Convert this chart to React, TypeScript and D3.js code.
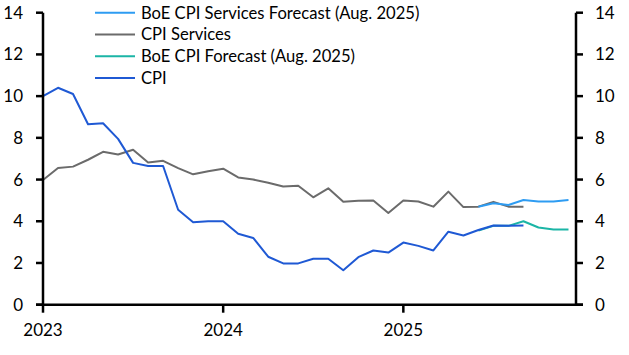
import React from "react";
import * as d3 from "d3";

const months = [
  "2023-01","2023-02","2023-03","2023-04","2023-05","2023-06","2023-07","2023-08","2023-09","2023-10","2023-11","2023-12",
  "2024-01","2024-02","2024-03","2024-04","2024-05","2024-06","2024-07","2024-08","2024-09","2024-10","2024-11","2024-12",
  "2025-01","2025-02","2025-03","2025-04","2025-05","2025-06","2025-07","2025-08","2025-09","2025-10","2025-11","2025-12",
];

const cpi = [10.0, 10.4, 10.1, 8.65, 8.7, 7.95, 6.8, 6.65, 6.65, 4.55, 3.95, 4.0,
  4.0, 3.4, 3.2, 2.3, 1.98, 1.98, 2.2, 2.2, 1.65, 2.28, 2.6, 2.5,
  2.98, 2.82, 2.6, 3.5, 3.32, 3.58, 3.8, 3.78, 3.8];

const cpiServices = [5.98, 6.55, 6.62, 6.95, 7.33, 7.2, 7.43, 6.82, 6.9, 6.55, 6.25, 6.4,
  6.52, 6.1, 6.0, 5.85, 5.67, 5.7, 5.15, 5.58, 4.94, 4.98, 5.0, 4.4,
  5.0, 4.95, 4.7, 5.42, 4.68, 4.7, 4.93, 4.7, 4.7];

// forecasts start at Jun 2025 (index 29)
const forecastStart = 29;
const boeServicesForecast = [4.7, 4.86, 4.78, 5.02, 4.95, 4.95, 5.02];
const boeCpiForecast = [3.55, 3.78, 3.78, 4.0, 3.7, 3.6, 3.6];

const yTicks = [0, 2, 4, 6, 8, 10, 12, 14];
const xTickLabels = ["2023", "2024", "2025"];

const legendItems = [
  { label: "BoE CPI Services Forecast (Aug. 2025)", color: "#2e9cf2" },
  { label: "CPI Services", color: "#6b6b6b" },
  { label: "BoE CPI Forecast (Aug. 2025)", color: "#1bb5a6" },
  { label: "CPI", color: "#1f59d4" },
];

const W = 629, H = 355;
const FONT = "Lato, 'Noto Sans', sans-serif";

export default function App() {
  const x = d3.scaleLinear().domain([0, 35.5]).range([43, 576]);
  const y = d3.scaleLinear().domain([0, 14]).range([304.7, 12.7]);
  const line = d3.line<[number, number]>().x((d) => x(d[0])).y((d) => y(d[1]));

  const cpiPts = cpi.map((v, i) => [i, v] as [number, number]);
  const svcPts = cpiServices.map((v, i) => [i, v] as [number, number]);
  const svcF = boeServicesForecast.map((v, i) => [forecastStart + i, v] as [number, number]);
  const cpiF = boeCpiForecast.map((v, i) => [forecastStart + i, v] as [number, number]);

  const series = [
    { pts: svcPts, color: legendItems[1].color },
    { pts: svcF, color: legendItems[0].color },
    { pts: cpiF, color: legendItems[2].color },
    { pts: cpiPts, color: legendItems[3].color },
  ];

  const xTickPos = xTickLabels.map((_, i) => i * 12);

  return (
    <svg width={W} height={H} style={{ position: "absolute", left: 0, top: 0, background: "#fff" }} fontFamily={FONT}>
      {series.map((s, i) => (
        <path key={i} d={line(s.pts) || ""} fill="none" stroke={s.color} strokeWidth={2} strokeLinejoin="round" />
      ))}
      {/* axes */}
      <line x1={x(0)} x2={x(0)} y1={y(14)} y2={y(0)} stroke="#000" strokeWidth={2.5} />
      <line x1={x(35.5)} x2={x(35.5)} y1={y(14)} y2={y(0)} stroke="#000" strokeWidth={2.5} />
      <line x1={x(0) - 7} x2={x(35.5) + 7} y1={y(0)} y2={y(0)} stroke="#000" strokeWidth={2.5} />
      {yTicks.map((t) => (
        <g key={t}>
          <line x1={x(0) - 7} x2={x(0)} y1={y(t)} y2={y(t)} stroke="#000" strokeWidth={2.5} />
          <line x1={x(35.5)} x2={x(35.5) + 7} y1={y(t)} y2={y(t)} stroke="#000" strokeWidth={2.5} />
          <text x={23} y={y(t)} dy="0.35em" textAnchor="end" fontSize={17} fill="#000">{t}</text>
          <text x={595} y={y(t)} dy="0.35em" textAnchor="start" fontSize={17} fill="#000">{t}</text>
        </g>
      ))}
      {xTickPos.map((m, i) => (
        <g key={m}>
          <line x1={x(m)} x2={x(m)} y1={y(0)} y2={y(0) + 8} stroke="#000" strokeWidth={2.5} />
          <text x={x(m)} y={336} textAnchor="middle" fontSize={17} fill="#000">{xTickLabels[i]}</text>
        </g>
      ))}
      {/* legend */}
      {legendItems.map((it, i) => (
        <g key={it.label} transform={`translate(0, ${12.7 + i * 21.8})`}>
          <line x1={95} x2={135} y1={0} y2={0} stroke={it.color} strokeWidth={2} />
          <text x={141} y={0} dy="0.36em" fontSize={16.6} fill="#000">{it.label}</text>
        </g>
      ))}
    </svg>
  );
}
